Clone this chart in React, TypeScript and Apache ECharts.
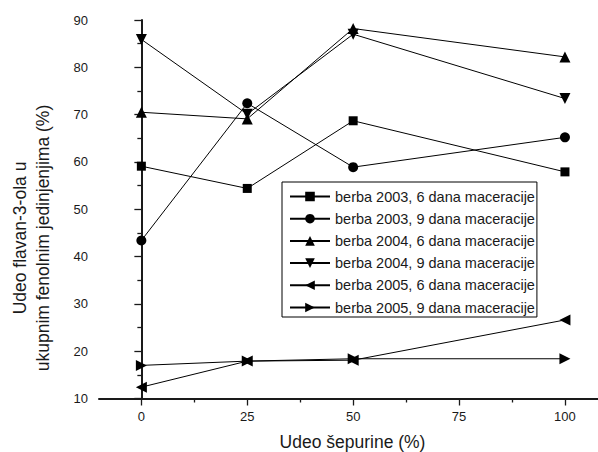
import React, { useEffect, useRef } from "react";
import * as echarts from "echarts";

const xValues = [0, 25, 50, 100];
const xTickLabels = [0, 25, 50, 75, 100];
const xMinorTicks = [12.5, 37.5, 62.5, 87.5];

const seriesNames = [
  "berba 2003, 6 dana maceracije",
  "berba 2003, 9 dana maceracije",
  "berba 2004, 6 dana maceracije",
  "berba 2004, 9 dana maceracije",
  "berba 2005, 6 dana maceracije",
  "berba 2005, 9 dana maceracije",
];
const s2003d6 = [59.1, 54.4, 68.7, 57.9];
const s2003d9 = [43.4, 72.4, 58.9, 65.2];
const s2004d6 = [70.5, 69.1, 88.2, 82.2];
const s2004d9 = [85.9, 70.1, 87.0, 73.4];
const s2005d6 = [12.4, 17.9, 18.1, 26.6];
const s2005d9 = [17.0, 17.9, 18.4, 18.4];

const seriesValues = [s2003d6, s2003d9, s2004d6, s2004d9, s2005d6, s2005d9];
const symbols = ["rect", "circle", "triangle", "triangle", "triangle", "triangle"];
const rotations = [0, 0, 0, 180, 90, -90];
const sizes = [9, 10, 11, 11, 11, 11];

const FONT = "'Liberation Sans', Arial, sans-serif";
const INK = "#1a1a1a";

export default function App() {
  const ref = useRef<HTMLDivElement>(null);
  useEffect(() => {
    if (!ref.current) return;
    const chart = echarts.init(ref.current, null, { renderer: "svg" });
    const series = seriesNames.map((name, i) => ({
      name,
      type: "line",
      data: xValues.map((x, j) => [x, seriesValues[i][j]]),
      symbol: symbols[i],
      symbolRotate: rotations[i],
      symbolSize: sizes[i],
      showAllSymbol: true,
      lineStyle: { color: "#000", width: 1 },
      itemStyle: { color: "#000", borderWidth: 0 },
      emphasis: { disabled: true },
      z: 3,
    }));
    chart.setOption({
      animation: false,
      backgroundColor: "#fff",
      textStyle: { fontFamily: FONT },
      grid: { left: 99, top: 20, bottom: 53.5, right: 0, containLabel: false },
      xAxis: [
        {
          type: "value",
          min: -10,
          max: 107.8,
          axisLine: { show: true, onZero: false, lineStyle: { color: INK, width: 2 } },
          axisTick: { show: true, length: 7, customValues: xTickLabels, lineStyle: { color: INK, width: 1.3 } },
          axisLabel: { customValues: xTickLabels, margin: 11, color: INK, fontSize: 13, fontFamily: FONT },
          splitLine: { show: false },
        },
        {
          type: "value",
          min: -10,
          max: 107.8,
          position: "bottom",
          axisLine: { show: false },
          axisTick: { show: true, length: 4, customValues: xMinorTicks, lineStyle: { color: INK, width: 1.3 } },
          axisLabel: { show: false },
          splitLine: { show: false },
        },
      ],
      yAxis: {
        type: "value",
        min: 10,
        max: 90,
        interval: 10,
        axisLine: { show: true, lineStyle: { color: INK, width: 2 } },
        axisTick: { show: true, length: 7, lineStyle: { color: INK, width: 1.3 } },
        minorTick: { show: true, splitNumber: 2, length: 4, lineStyle: { color: INK, width: 1.3 } },
        axisLabel: { margin: 11, color: INK, fontSize: 13, fontFamily: FONT },
        splitLine: { show: false },
      },
      legend: {
        orient: "vertical",
        left: 282,
        top: 182,
        itemWidth: 40,
        itemHeight: 12,
        itemGap: 7.2,
        padding: [7, 2, 2, 7],
        borderColor: "#000",
        borderWidth: 1,
        backgroundColor: "#fff",
        textStyle: { color: INK, fontSize: 14.5, fontFamily: FONT },
        data: seriesNames,
      },
      graphic: [
        {
          type: "text",
          x: 31.5,
          y: 238,
          rotation: Math.PI / 2,
          style: {
            text: "Udeo flavan-3-ola u\nukupnim fenolnim jedinjenjima (%)",
            fontSize: 17.5,
            fontFamily: FONT,
            fill: INK,
            align: "center",
            verticalAlign: "middle",
            lineHeight: 23,
          },
        },
        {
          type: "text",
          x: 352.5,
          y: 441.5,
          style: {
            text: "Udeo šepurine (%)",
            fontSize: 17.5,
            fontFamily: FONT,
            fill: INK,
            align: "center",
            verticalAlign: "middle",
          },
        },
      ],
      series,
    });
    return () => chart.dispose();
  }, []);
  return <div ref={ref} style={{ width: 598, height: 452, position: "absolute", left: 0, top: 0 }} />;
}
